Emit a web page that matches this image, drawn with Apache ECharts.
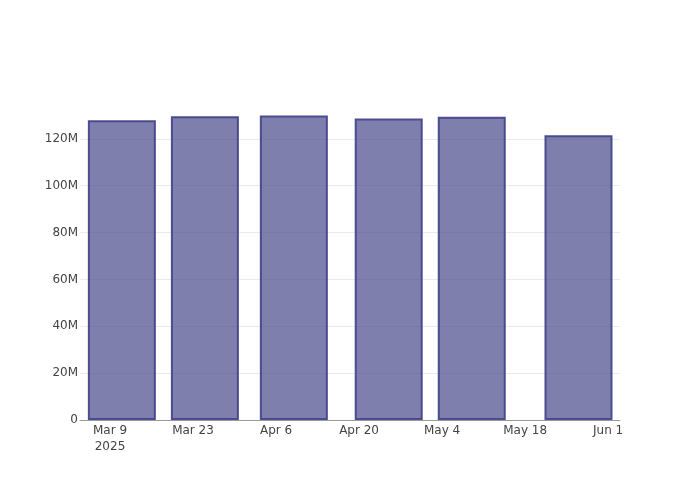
<!DOCTYPE html>
<html>
<head>
<meta charset="utf-8">
<script src="https://cdn.jsdelivr.net/npm/echarts@6/dist/echarts.min.js"></script>
<style>html,body{margin:0;padding:0;background:#fff}#c{width:700px;height:500px}</style>
</head>
<body>
<div id="c"></div>
<script>
var dates = ['2025-03-11', '2025-03-25', '2025-04-09', '2025-04-25', '2025-05-09', '2025-05-27'];
var values = [128.0e6, 129.7e6, 130.0e6, 128.7e6, 129.5e6, 121.6e6];
var xTickDates = ['2025-03-09', '2025-03-23', '2025-04-06', '2025-04-20', '2025-05-04', '2025-05-18', '2025-06-01'];
var yTicks = [0, 20e6, 40e6, 60e6, 80e6, 100e6, 120e6];
var monthNames = ['Jan','Feb','Mar','Apr','May','Jun','Jul','Aug','Sep','Oct','Nov','Dec'];

function ts(s) { var p = s.split('-'); return Date.UTC(+p[0], +p[1] - 1, +p[2]); }
var DAY = 86400000;
var xTicks = xTickDates.map(ts);
var xMin = xTicks[0] - 5.06 * DAY;
var xMax = xTicks[0] + 86.0 * DAY;

var chart = echarts.init(document.getElementById('c'));
chart.setOption({
  animation: false,
  textStyle: { fontFamily: 'DejaVu Sans' },
  grid: { left: 80, right: 80, top: 100, bottom: 80 },
  xAxis: {
    type: 'value',
    min: xMin,
    max: xMax,
    axisLine: { show: true, lineStyle: { color: '#999', width: 1 } },
    axisTick: { show: false, customValues: xTicks },
    splitLine: { show: false },
    axisLabel: {
      customValues: xTicks,
      color: '#444',
      fontFamily: 'DejaVu Sans',
      fontSize: 12,
      margin: 3,
      lineHeight: 16,
      formatter: function (v) {
        var d = new Date(v);
        var s = monthNames[d.getUTCMonth()] + ' ' + d.getUTCDate();
        if (Math.abs(v - xTicks[0]) < 1000) s += '\n' + d.getUTCFullYear();
        return s;
      }
    }
  },
  yAxis: {
    type: 'value',
    min: 0,
    max: 136.6e6,
    axisLine: { show: false },
    axisTick: { show: false, customValues: yTicks },
    splitLine: { show: true, lineStyle: { color: '#ebebeb', width: 1 } },
    axisLabel: {
      customValues: yTicks,
      color: '#444',
      fontFamily: 'DejaVu Sans',
      fontSize: 12,
      margin: 2,
      formatter: function (v) { return v === 0 ? '0' : (v / 1e6) + 'M'; }
    }
  },
  series: [{
    type: 'bar',
    barWidth: 68,
    data: dates.map(function (d, i) { return [ts(d), values[i]]; }),
    itemStyle: {
      color: 'rgba(72,72,140,0.7)',
      borderColor: 'rgba(70,70,140,0.95)',
      borderWidth: 2
    }
  }]
});
</script>
</body>
</html>
